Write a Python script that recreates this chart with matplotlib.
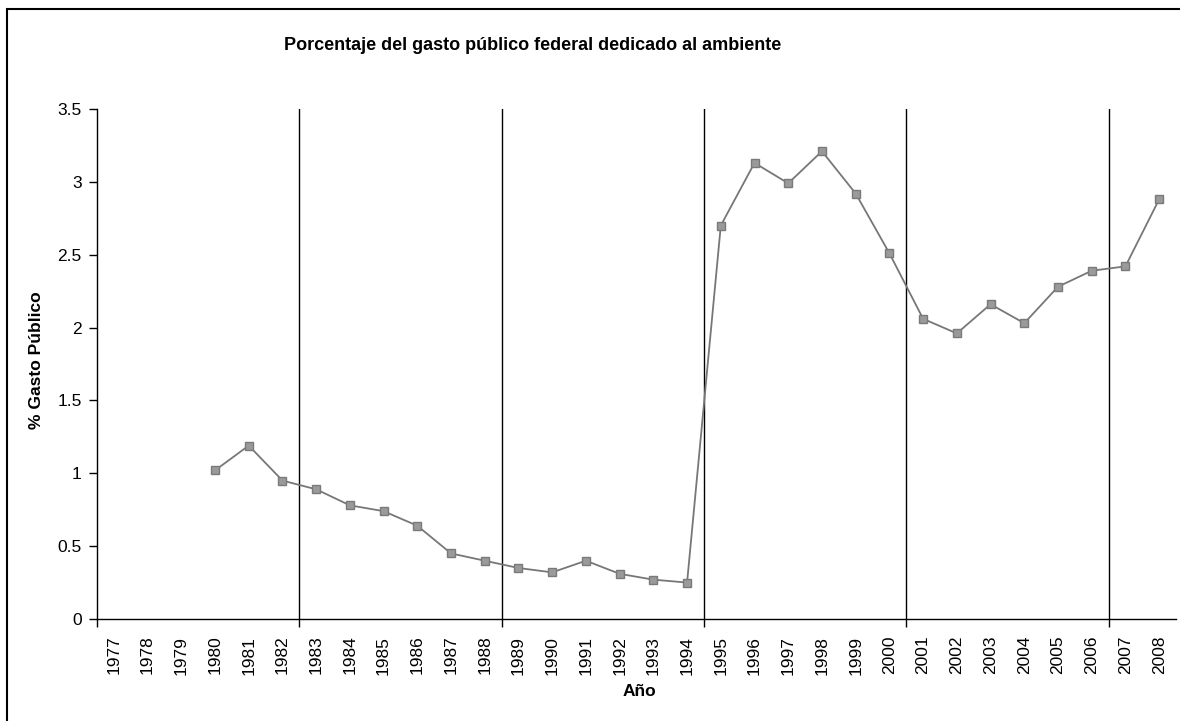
import numpy as np
import matplotlib.pyplot as plt
from matplotlib.patches import Rectangle

plt.rcParams["font.family"] = ["Liberation Sans", "DejaVu Sans"]

years = list(range(1977, 2009))
gasto = [np.nan, np.nan, np.nan,
         1.02, 1.19, 0.95, 0.89, 0.78, 0.74, 0.64, 0.45, 0.40,
         0.35, 0.32, 0.40, 0.31, 0.27, 0.25,
         2.70, 3.13, 2.99, 3.21, 2.92, 2.51,
         2.06, 1.96, 2.16, 2.03, 2.28, 2.39,
         2.42, 2.88]
# separators every 6 years (sexenios)
sexenio_step = 6

W, H = 1180, 721
fig = plt.figure(figsize=(W / 100, H / 100), dpi=100)
ax = fig.add_axes([97 / W, 1 - 619 / H, (1176 - 97) / W, (619 - 109) / H])

x = np.arange(len(years))
ax.plot(x, gasto, color="#777777", lw=1.3, marker="s", ms=6,
        mfc="#9a9a9a", mec="#7a7a7a", mew=1.0, zorder=3)

bounds = np.arange(-0.5, len(years), sexenio_step)
for b in bounds[1:]:
    ax.axvline(b, color="black", lw=1.0, zorder=1)

ax.set_xlim(-0.5, len(years) - 0.5)
ax.set_ylim(0, 3.5)
ax.set_yticks(np.arange(0, 3.51, 0.5))
ax.set_yticklabels(["0", "0.5", "1", "1.5", "2", "2.5", "3", "3.5"])
ax.set_xticks(x)
ax.set_xticklabels([str(y) for y in years], rotation=90)
ax.set_xticks(bounds, minor=True)
ax.tick_params(axis="x", which="major", length=0, pad=12, labelsize=12.5)
ax.tick_params(axis="x", which="minor", length=6, direction="out", width=1)
ax.tick_params(axis="y", length=6, direction="out", width=1, labelsize=12.5, pad=5)

for s in ["top", "right"]:
    ax.spines[s].set_visible(False)
for s in ["left", "bottom"]:
    ax.spines[s].set_linewidth(1.0)
    ax.spines[s].set_color("black")

fig.text(533 / W, 1 - 45 / H, "Porcentaje del gasto público federal dedicado al ambiente",
         ha="center", va="center", fontsize=13, fontweight="bold")
fig.text(639 / W, 1 - 692 / H, "Año", ha="center", va="center",
         fontsize=12.5, fontweight="bold")
fig.text(37 / W, 1 - 360 / H, "% Gasto Público", ha="center", va="center",
         rotation=90, fontsize=12.5, fontweight="bold")

fig.patches.append(Rectangle((7 / W, -0.01), 1.02, 1 - 9 / H + 0.01,
                             transform=fig.transFigure, fill=False,
                             edgecolor="black", lw=1.5))

fig.savefig("out.png", dpi=100)
